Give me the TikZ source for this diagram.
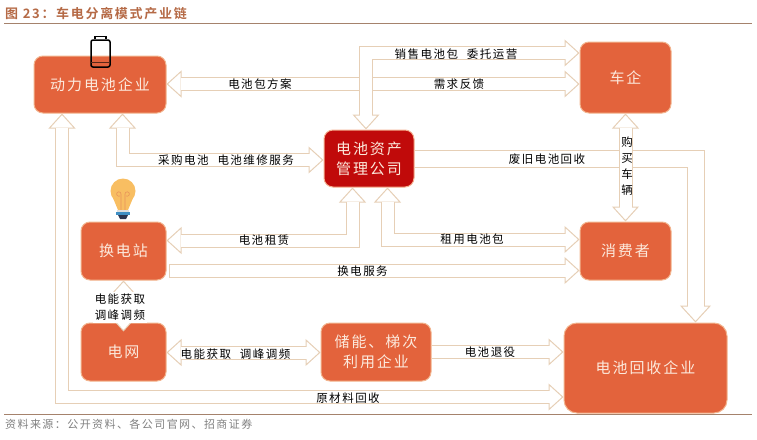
\documentclass[tikz,border=0pt]{standalone}
\usepackage{fontspec}
\setmainfont[LetterSpace=13,BoldFont={Noto Sans CJK SC Bold}]{Noto Sans CJK SC}
\usepackage{tikz}
\usetikzlibrary{arrows.meta}

\definecolor{firmfill}{HTML}{E3633C}
\definecolor{firmedge}{HTML}{F2B48E}
\definecolor{hubfill}{HTML}{C00A0A}
\definecolor{hubedge}{HTML}{F4B090}
\definecolor{flowline}{HTML}{E6CFB6}
\definecolor{titlecolor}{HTML}{B56A46}
\definecolor{rulecolor}{HTML}{A5826C}
\definecolor{firmtext}{HTML}{FCE9DC}
\definecolor{bulbglass}{HTML}{F8BE62}
\definecolor{bulbwire}{HTML}{E8935A}
\definecolor{bulbband}{HTML}{3F8FC4}
\definecolor{bulbfoot}{HTML}{2A3550}

\begin{document}
\begin{tikzpicture}[
    x=1pt, y=-1pt,
    % --- STYLES ---
    flowtip/.tip={Triangle[length=15pt, width=27pt, line width=1pt, fill=white]},
    firm/.style={
        rectangle, rounded corners=9pt,
        draw=firmedge, fill=firmfill, line width=1pt,
        text=firmtext, align=center, inner sep=0pt,
        font=\fontsize{15}{20}\selectfont
    },
    hub/.style={firm, draw=hubedge, fill=hubfill},
    flowone/.style={
        draw=flowline, line width=14pt, -{flowtip},
        postaction={draw=white, line width=12pt, -, shorten >=14pt}
    },
    flowshut/.style={
        draw=flowline, line width=14pt, -{flowtip},
        postaction={draw=white, line width=12pt, -, shorten >=14pt, shorten <=1pt}
    },
    flowwide/.style={
        draw=flowline, line width=18pt, -{flowtip[length=17pt, width=31pt]},
        postaction={draw=white, line width=16pt, -, shorten >=16pt}
    },
    flowtwo/.style={
        draw=flowline, line width=14pt, {flowtip}-{flowtip},
        postaction={draw=white, line width=12pt, -, shorten >=14pt, shorten <=14pt}
    },
    flowlabel/.style={text=black, inner sep=0pt, font=\fontsize{11.5}{16}\selectfont, align=center}
]
\useasboundingbox (0,0) rectangle (757,439);

% ===== 1. HEADER AND FOOTER =====
\node[anchor=west, inner sep=0pt, text=titlecolor, font=\fontsize{13}{16}\selectfont\bfseries] (title) at (5,14) {图 23：车电分离模式产业链};
\node[anchor=west, inner sep=0pt, text=gray, font=\fontsize{11}{14}\selectfont] (source) at (5,424) {资料来源：公开资料、各公司官网、招商证券};
\coordinate (topl) at (4,23);
\coordinate (topr) at (752,23);
\coordinate (botl) at (4,414);
\coordinate (botr) at (752,414);
\draw[rulecolor, line width=.7pt] (topl) -- (topr);
\draw[rulecolor, line width=.7pt] (botl) -- (botr);

% ===== 2. FIRMS =====
\node[firm, minimum width=132pt, minimum height=57pt] (battery) at (100,84.5) {动力电池企业};
\node[firm, minimum width=91pt, minimum height=71pt] (carmaker) at (625.5,77.5) {车企};
\node[hub, minimum width=90pt, minimum height=57pt] (asset) at (369,158.5) {电池资产\\管理公司};
\node[firm, minimum width=85pt, minimum height=58pt] (swap) at (123.5,251) {换电站};
\node[firm, minimum width=91pt, minimum height=58pt] (consumer) at (625.5,251) {消费者};
\node[firm, minimum width=85pt, minimum height=58pt] (grid) at (123.5,352) {电网};
\node[firm, minimum width=110pt, minimum height=58pt] (storage) at (376,352) {储能、梯次\\利用企业};
\node[firm, rounded corners=13pt, minimum width=163pt, minimum height=90pt] (recycle) at (645.5,368) {电池回收企业};

% ===== 3. CONNECTIONS =====
\draw[flowtwo] (battery.east |- 0,84) -- (carmaker.west |- 0,84);
\draw[flowtwo] (carmaker.west |- 0,53) -| ([xshift=-3pt]asset.north);
\draw[flowtwo] ([xshift=22.5pt]battery.south) |- (asset.west |- 0,160);
\draw[flowtwo] ([xshift=-38pt]battery.south) |- (recycle.west |- 0,397);
\draw[flowwide] (asset.east |- 0,158.5) -| ([xshift=50pt]recycle.north);
\draw[flowtwo] (carmaker.south) -- (consumer.north);
\draw[flowtwo] (swap.east |- 0,240.5) -| ([xshift=-16.5pt]asset.south);
\draw[flowtwo] ([xshift=18.5pt]asset.south) |- (consumer.west |- 0,239.5);
\coordinate (servstart) at (169,270.5);
\draw[flowshut] (servstart) -- (consumer.west |- servstart);
\draw[flowtwo] (swap.south) -- ([yshift=-9pt]grid.north);
\draw[flowtwo] (grid.east |- 0,352.5) -- (storage.west |- 0,352.5);
\draw[flowone] (storage.east |- 0,352) -- (recycle.west |- 0,352);

% ===== 4. CONNECTOR LABELS =====
\node[flowlabel] (lsell) at (456,54) {销售电池包\hspace*{9pt}委托运营};
\node[flowlabel] (lplan) at (260,84) {电池包方案};
\node[flowlabel] (lneed) at (459,84) {需求反馈};
\node[flowlabel] (lbuy) at (226,160) {采购电池\hspace*{9pt}电池维修服务};
\node[flowlabel] (lwaste) at (547,159) {废旧电池回收};
\node[flowlabel] (lcar) at (627,166) {购\\买\\车\\辆};
\node[flowlabel] (lrent) at (264,240) {电池租赁};
\node[flowlabel] (lpack) at (472,239) {租用电池包};
\node[flowlabel] (lserv) at (362.5,271) {换电服务};
\node[flowlabel, fill=white, inner xsep=2pt, minimum height=31pt] (lgrid) at (120,307.5) {电能获取\\调峰调频};
\node[flowlabel] (lpower) at (235.5,354) {电能获取\hspace*{9pt}调峰调频};
\node[flowlabel] (lretire) at (490,352) {电池退役};
\node[flowlabel] (lmat) at (348,398) {原材料回收};

% ===== 5. ICONS =====
\draw[black, line width=1.5pt, rounded corners=2pt] (91,40) rectangle (110,67);
\draw[black, line width=1.5pt] (95,39) -- (95,36.5) -- (106,36.5) -- (106,39);
\draw[black!60!firmfill, line width=.8pt] (91,62) -- (110,62);

\fill[bulbglass] (123,191) circle (12.5);
\fill[bulbglass] (113,198) -- (133,198) -- (128,210) -- (118,210) -- cycle;
\draw[bulbwire, line width=.6pt] (121,212) -- (121,194) arc (0:-300:2.2);
\draw[bulbwire, line width=.6pt] (125,212) -- (125,194) arc (180:480:2.2);
\fill[gray!25] (117,210) rectangle (129,212);
\fill[bulbband] (116,212) rectangle (130,215);
\fill[bulbfoot] (118,215) -- (128,215) -- (126,219) -- (120,219) -- cycle;

\end{tikzpicture}
\end{document}
